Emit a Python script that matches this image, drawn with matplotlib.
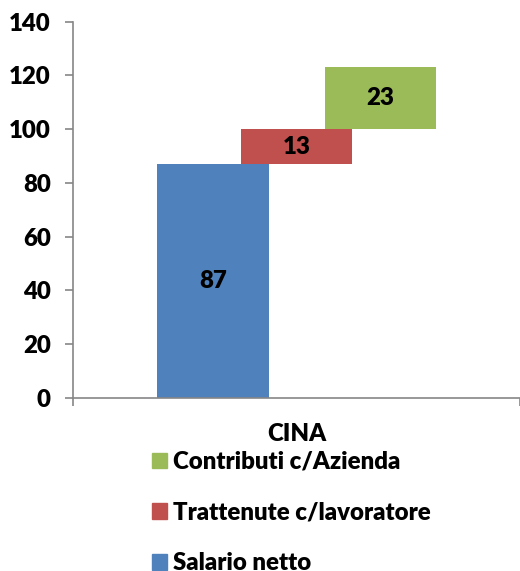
import matplotlib
matplotlib.use("Agg")
import matplotlib.pyplot as plt
from matplotlib.patches import Patch

categories = ["CINA"]
series_names = ["Salario netto", "Trattenute c/lavoratore", "Contributi c/Azienda"]
series_values = [87, 13, 23]
series_colors = ["#4F81BD", "#C0504D", "#9BBB59"]
y_ticks = [0, 20, 40, 60, 80, 100, 120, 140]

plt.rcParams['font.family'] = ['Lato', 'DejaVu Sans']
W = "heavy"
plt.rcParams['font.weight'] = W
FS = 17.3

fig = plt.figure(figsize=(5.2, 5.71), dpi=100)
ax = fig.add_axes([73/520, (571-397.7)/571, 1 - 73/520, (397.7-21.7)/571])

offsets = [-0.186, 0.0, 0.188]
width = 0.25
bottom = 0
for name, val, col, off in zip(series_names, series_values, series_colors, offsets):
    ax.bar(off, val, width=width, bottom=bottom, color=col, label=name)
    ax.text(off, bottom + val / 2, f"{val}", ha="center", va="center",
            fontsize=FS, fontweight=W, color="black")
    bottom += val

ax.set_xlim(-0.5, 0.5)
ax.set_ylim(0, 140)
ax.set_yticks(y_ticks)
ax.set_yticklabels([str(t) for t in y_ticks], fontsize=FS, fontweight=W)
ax.set_xticks([0])
ax.set_xticklabels(categories, fontsize=FS, fontweight=W)
ax.tick_params(axis="x", length=0, pad=18)
ax.set_xticks([-0.5, 0.5], minor=True)
ax.tick_params(axis="x", which="minor", length=6, color="#868686", width=1.2)
ax.tick_params(axis="y", length=6, color="#868686", width=1.2, pad=10)
for s in ["top", "right"]:
    ax.spines[s].set_visible(False)
for s in ["left", "bottom"]:
    ax.spines[s].set_color("#868686")
    ax.spines[s].set_linewidth(1.2)

handles = [Patch(color=c) for c in series_colors][::-1]
labels = series_names[::-1]
fig.legend(handles, labels, loc="upper left", bbox_to_anchor=(152/520, 1 - 451/571),
           frameon=False, borderpad=0, borderaxespad=0,
           handlelength=0.62, handleheight=0.62,
           handletextpad=0.25, labelspacing=1.19, prop={'weight': W, 'size': FS})

fig.savefig("out.png", dpi=100)
